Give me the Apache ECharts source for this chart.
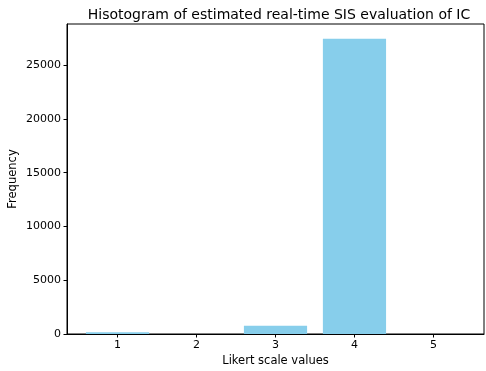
<!DOCTYPE html>
<html><head><meta charset="utf-8">
<script src="https://cdn.jsdelivr.net/npm/echarts@6/dist/echarts.min.js"></script>
<style>html,body{margin:0;padding:0;background:#fff}#c{width:486px;height:371px}</style>
</head><body><div id="c"></div>
<script>
const categories = [1, 2, 3, 4, 5];
const frequencies = [160, 0, 770, 27450, 0];
const yTicks = [0, 5000, 10000, 15000, 20000, 25000];

const font = 'DejaVu Sans';
const chart = echarts.init(document.getElementById('c'), null, {renderer: 'canvas'});
const data = categories.map((c, i) => [c, frequencies[i]]);
chart.setOption({
  animation: false,
  title: {
    text: 'Hisotogram of estimated real-time SIS evaluation of IC',
    left: 274, top: 3, textAlign: 'center',
    textStyle: {fontFamily: font, fontSize: 14, fontWeight: 'normal', color: '#000'}
  },
  grid: {left: 67, right: 2, top: 24, bottom: 37, show: true, borderColor: '#000', borderWidth: 1,
         backgroundColor: 'transparent', containLabel: false, outerBoundsMode: 'none'},
  xAxis: {
    type: 'value', min: 0.36, max: 5.64,
    name: 'Likert scale values', nameLocation: 'middle', nameGap: 21, nameMoveOverlap: false,
    nameTextStyle: {fontFamily: font, fontSize: 11.5, color: '#000'},
    axisLine: {show: true, lineStyle: {color: '#000'}},
    axisTick: {show: true, length: 3.5, lineStyle: {color: '#000'}, customValues: categories},
    axisLabel: {fontFamily: font, fontSize: 11, color: '#000', margin: 6, customValues: categories,
                formatter: v => String(v)},
    splitLine: {show: false}
  },
  yAxis: {
    type: 'value', min: 0, max: 28830,
    name: 'Frequency', nameLocation: 'middle', nameGap: 48, nameMoveOverlap: false,
    nameTextStyle: {fontFamily: font, fontSize: 11.5, color: '#000'},
    axisLine: {show: true, lineStyle: {color: '#000'}},
    axisTick: {show: true, length: 3.5, lineStyle: {color: '#000'}, customValues: yTicks},
    axisLabel: {fontFamily: font, fontSize: 11, color: '#000', margin: 6, customValues: yTicks,
                formatter: v => String(v)},
    splitLine: {show: false}
  },
  series: [{
    type: 'custom',
    data: data,
    renderItem: function (params, api) {
      const x = api.value(0), y = api.value(1);
      const p0 = api.coord([x - 0.4, 0]);
      const p1 = api.coord([x + 0.4, y]);
      return {
        type: 'rect',
        shape: {x: p0[0], y: p1[1], width: p1[0] - p0[0], height: p0[1] - p1[1]},
        style: {fill: '#87CEEB'}
      };
    }
  }]
});
</script></body></html>
